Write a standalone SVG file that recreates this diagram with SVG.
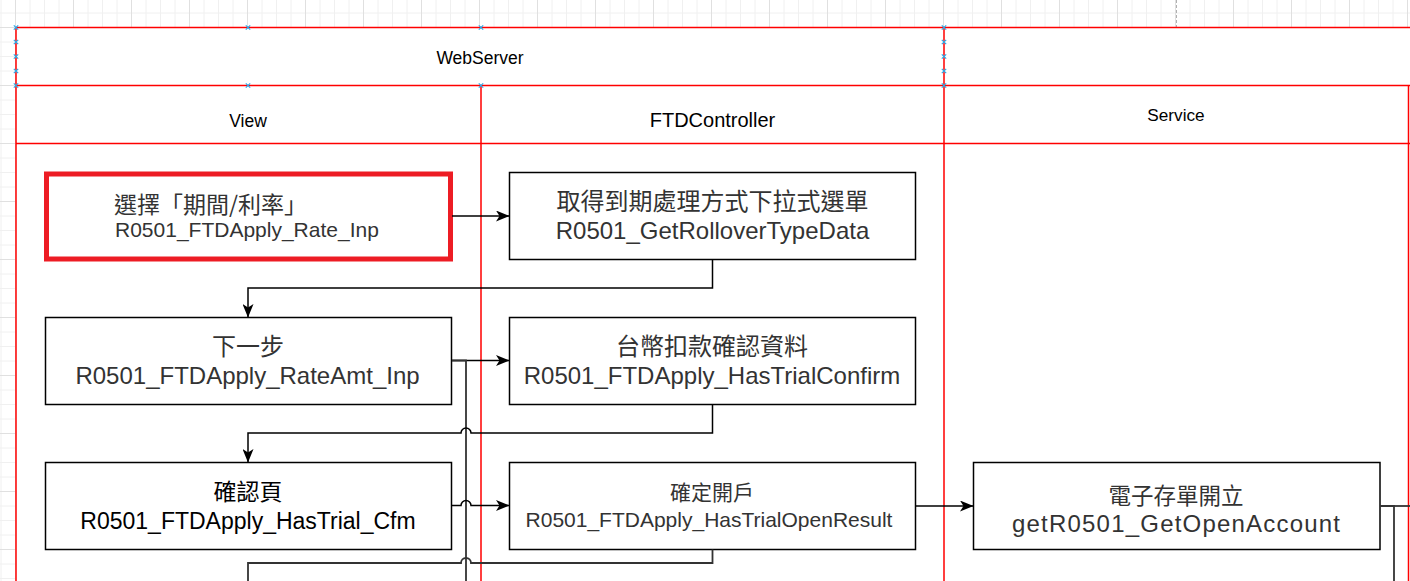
<svg xmlns="http://www.w3.org/2000/svg" width="1410" height="581" viewBox="0 0 1410 581">
<style>
.lane{fill:none;stroke:#ff0000;stroke-width:1.5}
.hdr{font-family:"Liberation Sans",Arial,sans-serif;fill:#000;text-anchor:middle}
.box{fill:#fff;stroke:#000;stroke-width:1.5}
.t{font-family:"Liberation Sans",Arial,"Noto Sans CJK TC",sans-serif;fill:#333;text-anchor:middle}
.c{font-family:"Noto Sans CJK TC","Liberation Sans",sans-serif;fill:#333;text-anchor:middle}
.edge{fill:none;stroke:#000;stroke-width:1.5}
.edge2{fill:none;stroke:#333;stroke-width:1.8}
.mk{stroke:#2ea8e6;stroke-width:1.2;fill:none}
</style>
<defs>
<pattern id="grid" x="15" y="27" width="58" height="58" patternUnits="userSpaceOnUse">
<path d="M15 0V58M29.5 0V58M44 0V58M0 15H58M0 29.5H58M0 44H58" stroke="#f0f0f0" stroke-width="1"/>
<path d="M0.5 0V58M0 0.5H58" stroke="#e0e0e0" stroke-width="1"/>
</pattern>
<marker id="arr" viewBox="0 0 14 11" markerWidth="14" markerHeight="11" refX="13.5" refY="5.5" orient="auto" markerUnits="userSpaceOnUse">
<path d="M0 0L13.5 5.5L0 11L3.5 5.5Z" fill="#000"/>
</marker>
<path id="x" d="M-2.2 -2.2L2.2 2.2M-2.2 2.2L2.2 -2.2"/>
</defs>

<rect width="1410" height="581" fill="#fff"/>
<rect width="1410" height="581" fill="url(#grid)"/>
<line x1="1176.5" y1="0" x2="1176.5" y2="27" stroke="#b0b0b0" stroke-width="1" stroke-dasharray="3 2"/>

<g id="pool">
<rect x="16" y="27.5" width="1400" height="560" fill="#fff"/>
<path class="lane" d="M16 27.5H1410M16 85.5H1410M16 143.5H1410M16 27.5V581M481 85.5V581M944 27.5V581M1408.5 85.5V581"/>
<text class="hdr" x="480" y="63.5" font-size="17.5">WebServer</text>
<text class="hdr" x="248" y="126.5" font-size="17.5">View</text>
<text class="hdr" x="712.5" y="126.5" font-size="20">FTDController</text>
<text class="hdr" x="1176" y="120.5" font-size="17.2">Service</text>
</g>

<g id="handles" class="mk">
<use href="#x" x="16" y="27.5"/><use href="#x" x="248" y="27.5"/><use href="#x" x="481" y="27.5"/>
<use href="#x" x="16" y="42"/><use href="#x" x="16" y="56.5"/><use href="#x" x="16" y="71"/>
<use href="#x" x="16" y="85.5"/><use href="#x" x="248" y="85.5"/><use href="#x" x="481" y="85.5"/>
<use href="#x" x="944" y="27.5"/><use href="#x" x="944" y="42"/><use href="#x" x="944" y="56.5"/>
<use href="#x" x="944" y="71"/><use href="#x" x="944" y="85.5"/>
</g>

<g id="n1">
<rect x="46.5" y="174" width="404" height="85" fill="#fff" stroke="#ed1c24" stroke-width="5"/>
<text class="c" x="114" y="213" font-size="23" style="text-anchor:start">選擇「期間/利率」</text>
<text class="t" x="115" y="237" font-size="21" style="text-anchor:start">R0501_FTDApply_Rate_Inp</text>
</g>

<g id="n2">
<rect class="box" x="509.5" y="172.5" width="406" height="87"/>
<text class="c" x="712.5" y="210" font-size="24">取得到期處理方式下拉式選單</text>
<text class="t" x="712.5" y="239" font-size="24">R0501_GetRolloverTypeData</text>
</g>

<g id="n3">
<rect class="box" x="45.5" y="317.5" width="406" height="87"/>
<text class="c" x="248" y="355" font-size="24">下一步</text>
<text class="t" x="247.5" y="384" font-size="24">R0501_FTDApply_RateAmt_Inp</text>
</g>

<g id="n4">
<rect class="box" x="509.5" y="317.5" width="406" height="87"/>
<text class="c" x="712" y="355" font-size="24">台幣扣款確認資料</text>
<text class="t" x="712" y="384" font-size="24">R0501_FTDApply_HasTrialConfirm</text>
</g>

<g id="n5">
<rect class="box" x="45.5" y="462.5" width="406" height="87"/>
<text class="c" x="248" y="500" font-size="23" style="fill:#000">確認頁</text>
<text class="t" x="248" y="529" font-size="23" style="fill:#000">R0501_FTDApply_HasTrial_Cfm</text>
</g>

<g id="n6">
<rect class="box" x="509.5" y="462.5" width="406" height="87"/>
<text class="c" x="712" y="499.5" font-size="21">確定開戶</text>
<text class="t" x="709" y="526.5" font-size="21">R0501_FTDApply_HasTrialOpenResult</text>
</g>

<g id="n7">
<rect class="box" x="973.5" y="462.5" width="406.5" height="87"/>
<text class="c" x="1176" y="503.5" font-size="22.5">電子存單開立</text>
<text class="t" x="1176" y="532" font-size="24" textLength="328" lengthAdjust="spacing">getR0501_GetOpenAccount</text>
</g>

<g id="connectors">
<path class="edge" d="M452 216H509.5" marker-end="url(#arr)"/>
<path class="edge" d="M712.5 259.5V288H248V317.5" marker-end="url(#arr)"/>
<path class="edge" d="M452 360.5H509.5" marker-end="url(#arr)"/>
<path class="edge2" d="M452 360.5H466V581"/>
<path class="edge" d="M712.5 404.5V433H471A5 5 0 0 0 461 433H248V462.5" marker-end="url(#arr)"/>
<path class="edge" d="M452 505.5H461A5 5 0 0 1 471 505.5H509.5" marker-end="url(#arr)"/>
<path class="edge2" d="M712.5 549.5V563H471A5 5 0 0 0 461 563H248V581"/>
<path class="edge" d="M916 506H973.5" marker-end="url(#arr)"/>
<path class="edge2" d="M1380 506H1410"/>
<path class="edge2" d="M1380 506H1394V581"/>
</g>
</svg>
